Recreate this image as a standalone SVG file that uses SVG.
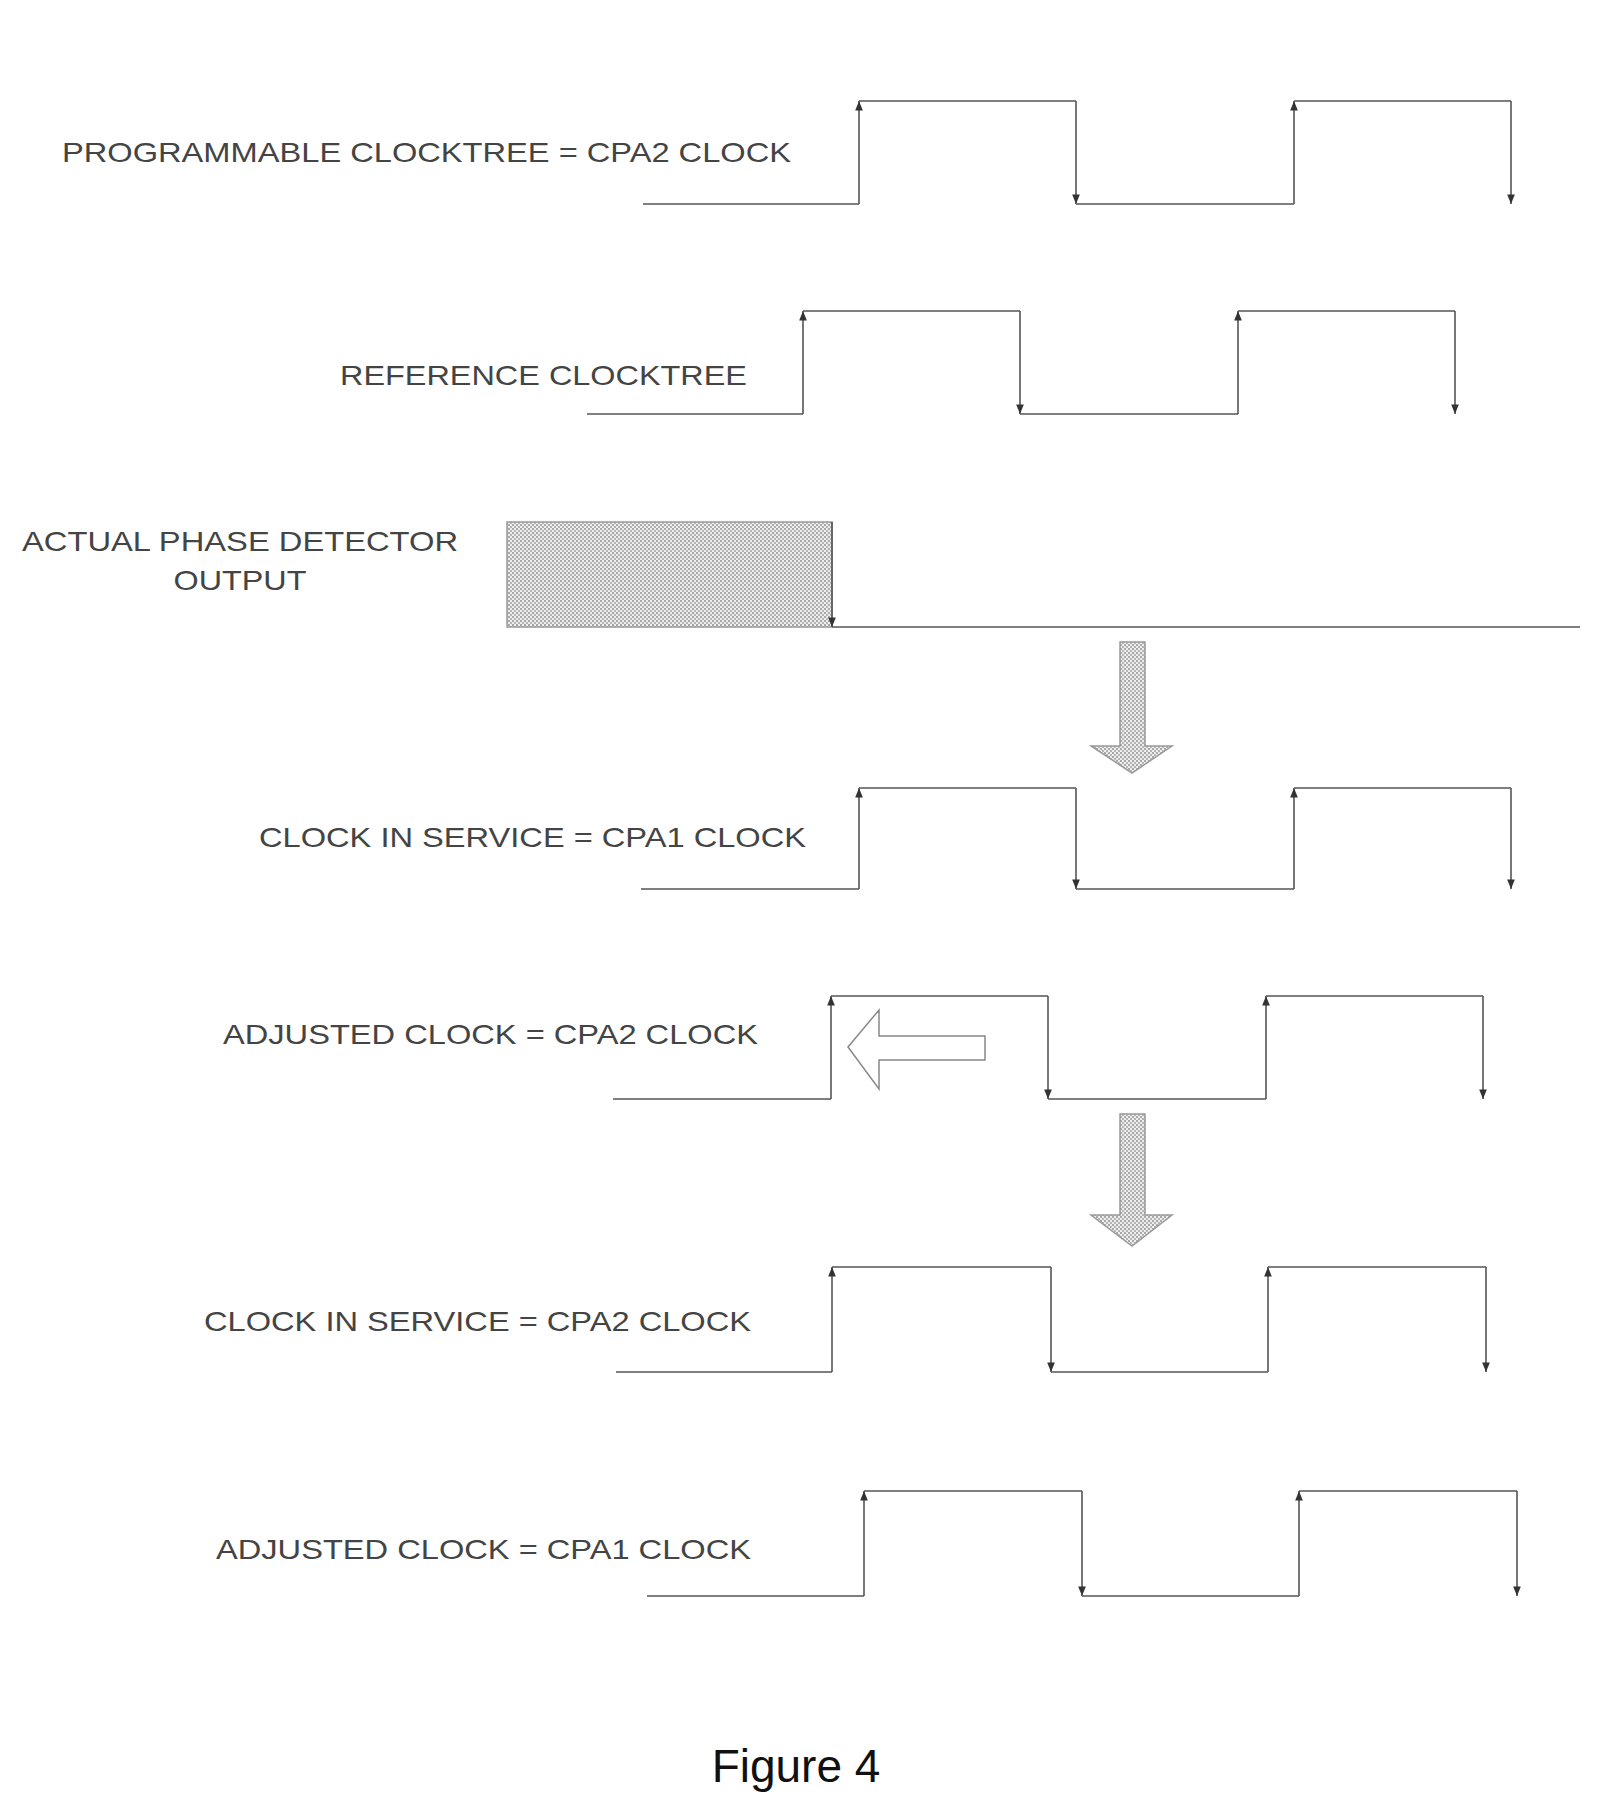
<svg xmlns="http://www.w3.org/2000/svg" width="1601" height="1812" viewBox="0 0 1601 1812">
<style>
.w{fill:none;stroke:#555;stroke-width:1.6}
.e{fill:none;stroke:#555;stroke-width:1.6;marker-end:url(#ah)}
.t{font-family:"Liberation Sans",Arial,sans-serif;font-size:28px;fill:#444}
.big{fill:url(#dots);stroke:#999;stroke-width:1.5}
</style>
<defs>
<marker id="ah" viewBox="0 0 10 10" refX="10" refY="5" markerWidth="6" markerHeight="6" orient="auto"><path d="M0,1 L10,5 L0,9 z" fill="#333"/></marker>
<pattern id="dots" width="4" height="4" patternUnits="userSpaceOnUse"><rect width="4" height="4" fill="#eeeeee"/><circle cx="1" cy="1" r="0.9" fill="#888"/><circle cx="3" cy="3" r="0.9" fill="#999"/></pattern>
</defs>
<g id="connectors">
<g id="row1"><path class="w" d="M643,204 H859"/><path class="e" d="M859,204 V101"/><path class="w" d="M859,101 H1076"/><path class="e" d="M1076,101 V204"/><path class="w" d="M1076,204 H1294"/><path class="e" d="M1294,204 V101"/><path class="w" d="M1294,101 H1511"/><path class="e" d="M1511,101 V204"/></g>
<g id="row2"><path class="w" d="M587,414 H803"/><path class="e" d="M803,414 V311"/><path class="w" d="M803,311 H1020"/><path class="e" d="M1020,311 V414"/><path class="w" d="M1020,414 H1238"/><path class="e" d="M1238,414 V311"/><path class="w" d="M1238,311 H1455"/><path class="e" d="M1455,311 V414"/></g>
<g id="row3"><rect class="big" x="507" y="522" width="325" height="105"/><path class="e" d="M832,522 V627"/><path class="w" d="M832,627 H1580"/></g>
<g id="row4"><path class="w" d="M641,889 H859"/><path class="e" d="M859,889 V788"/><path class="w" d="M859,788 H1076"/><path class="e" d="M1076,788 V889"/><path class="w" d="M1076,889 H1294"/><path class="e" d="M1294,889 V788"/><path class="w" d="M1294,788 H1511"/><path class="e" d="M1511,788 V889"/></g>
<g id="row5"><path class="w" d="M613,1099 H831"/><path class="e" d="M831,1099 V996"/><path class="w" d="M831,996 H1048"/><path class="e" d="M1048,996 V1099"/><path class="w" d="M1048,1099 H1266"/><path class="e" d="M1266,1099 V996"/><path class="w" d="M1266,996 H1483"/><path class="e" d="M1483,996 V1099"/></g>
<g id="row6"><path class="w" d="M616,1372 H832"/><path class="e" d="M832,1372 V1267"/><path class="w" d="M832,1267 H1051"/><path class="e" d="M1051,1267 V1372"/><path class="w" d="M1051,1372 H1268"/><path class="e" d="M1268,1372 V1267"/><path class="w" d="M1268,1267 H1486"/><path class="e" d="M1486,1267 V1372"/></g>
<g id="row7"><path class="w" d="M647,1596 H864"/><path class="e" d="M864,1596 V1491"/><path class="w" d="M864,1491 H1082"/><path class="e" d="M1082,1491 V1596"/><path class="w" d="M1082,1596 H1299"/><path class="e" d="M1299,1596 V1491"/><path class="w" d="M1299,1491 H1517"/><path class="e" d="M1517,1491 V1596"/></g>
<g id="arrows">
<path class="big" d="M1120,642 H1145 V746 H1172 L1132,773 L1091,746 H1120 Z"/>
<path class="big" d="M1120,1114 H1145 V1215 H1172 L1132,1246 L1091,1215 H1120 Z"/>
<path fill="#fff" stroke="#888" stroke-width="1.5" d="M848,1047 L879,1010 V1036 H985 V1060 H879 V1089 Z"/>
</g>
</g>
<g id="labels">
<text class="t" x="62" y="162" textLength="729" lengthAdjust="spacingAndGlyphs">PROGRAMMABLE CLOCKTREE = CPA2 CLOCK</text>
<text class="t" x="340" y="385" textLength="407" lengthAdjust="spacingAndGlyphs">REFERENCE CLOCKTREE</text>
<text class="t" x="240" y="551" text-anchor="middle" textLength="436" lengthAdjust="spacingAndGlyphs">ACTUAL PHASE DETECTOR</text>
<text class="t" x="240" y="590" text-anchor="middle" textLength="133" lengthAdjust="spacingAndGlyphs">OUTPUT</text>
<text class="t" x="259" y="847" textLength="547" lengthAdjust="spacingAndGlyphs">CLOCK IN SERVICE = CPA1 CLOCK</text>
<text class="t" x="223" y="1044" textLength="535" lengthAdjust="spacingAndGlyphs">ADJUSTED CLOCK = CPA2 CLOCK</text>
<text class="t" x="204" y="1331" textLength="547" lengthAdjust="spacingAndGlyphs">CLOCK IN SERVICE = CPA2 CLOCK</text>
<text class="t" x="216" y="1559" textLength="535" lengthAdjust="spacingAndGlyphs">ADJUSTED CLOCK = CPA1 CLOCK</text>
<text x="796" y="1782" text-anchor="middle" font-family="Liberation Sans,Arial,sans-serif" font-size="46" fill="#111">Figure 4</text>
</g>
</svg>
